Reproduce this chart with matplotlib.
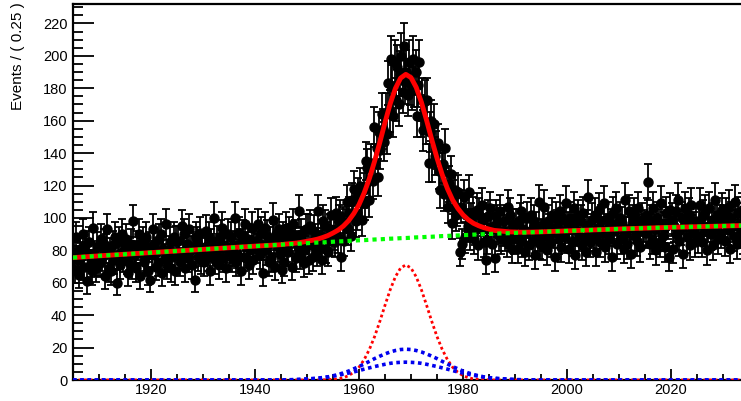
import numpy as np
import matplotlib.pyplot as plt
from matplotlib.ticker import MultipleLocator

# event counts per 0.25 bin, 1905 -> 2035 (20 bins per row = 5 units)
counts = [
    79, 68, 88, 74, 65, 81, 76, 90, 70, 83, 61, 78, 85, 72, 67, 94, 77, 69, 82, 73,
    72, 87, 76, 84, 64, 81, 93, 69, 79, 67, 83, 74, 88, 60, 77, 85, 71, 90, 75, 80,
    87, 74, 66, 79, 84, 71, 98, 77, 69, 83, 90, 64, 81, 85, 73, 76, 88, 67, 82, 62,
    77, 93, 84, 70, 79, 73, 87, 90, 66, 81, 75, 96, 71, 80, 85, 69, 76, 88, 67, 86,
    86, 77, 73, 95, 79, 90, 69, 84, 75, 93, 80, 71, 82, 62, 88, 85, 76, 91, 74, 79,
    73, 82, 92, 76, 88, 67, 84, 79, 100, 74, 86, 80, 71, 89, 94, 75, 83, 69, 81, 90,
    79, 88, 75, 83, 100, 73, 78, 91, 84, 67, 89, 76, 96, 82, 87, 71, 80, 94, 74, 85,
    86, 81, 96, 77, 91, 83, 66, 94, 80, 89, 73, 85, 75, 99, 87, 70, 90, 82, 93, 78,
    68, 88, 73, 94, 82, 79, 91, 87, 70, 96, 89, 75, 83, 104, 77, 90, 85, 72, 80, 93,
    93, 74, 95, 83, 76, 92, 87, 79, 104, 83, 89, 74, 98, 95, 81, 88, 79, 93, 102, 86,
    90, 85, 103, 88, 98, 101, 76, 97, 86, 96, 110, 93, 103, 89, 111, 101, 118, 98, 103, 114,
    120, 111, 99, 117, 109, 135, 131, 111, 124, 134, 123, 156, 134, 143, 125, 153, 142, 164, 155, 147,
    164, 152, 183, 166, 198, 181, 163, 196, 173, 193, 170, 189, 200, 178, 206, 184, 190, 176, 196, 183,
    180, 198, 182, 190, 163, 182, 196, 163, 173, 154, 172, 158, 173, 134, 153, 160, 134, 158, 138, 142,
    146, 129, 117, 129, 133, 115, 143, 118, 107, 121, 127, 97, 113, 117, 102, 105, 116, 79, 107, 84,
    113, 88, 102, 95, 116, 90, 99, 103, 87, 93, 105, 83, 102, 93, 108, 99, 85, 74, 87, 101,
    106, 93, 84, 95, 75, 101, 98, 89, 104, 87, 92, 98, 89, 85, 107, 91, 102, 81, 96, 87,
    96, 90, 81, 99, 104, 85, 93, 79, 91, 100, 83, 92, 102, 86, 98, 77, 94, 89, 110, 84,
    83, 96, 107, 89, 80, 98, 93, 85, 102, 91, 76, 100, 95, 87, 104, 82, 92, 99, 88, 109,
    94, 81, 100, 97, 86, 106, 77, 92, 101, 89, 98, 83, 103, 88, 79, 95, 113, 85, 91, 99,
    89, 102, 79, 94, 105, 85, 98, 91, 109, 82, 93, 100, 87, 96, 76, 103, 92, 106, 84, 97,
    100, 87, 97, 81, 111, 91, 84, 104, 94, 78, 98, 102, 89, 86, 106, 93, 82, 99, 92, 95,
    91, 102, 122, 84, 98, 87, 106, 93, 80, 100, 96, 85, 109, 89, 94, 82, 103, 97, 76, 105,
    99, 81, 95, 104, 90, 111, 86, 93, 100, 78, 106, 97, 88, 102, 83, 108, 92, 94, 85, 98,
    88, 97, 108, 85, 101, 92, 104, 80, 95, 106, 90, 99, 83, 111, 94, 102, 87, 98, 91, 105,
    98, 86, 102, 93, 107, 81, 100, 95, 89, 110, 84, 103, 96, 91, 105, 87, 99, 82, 101, 94,
]

# fit model components sampled along x
curve_x = [1905, 1910, 1915, 1920, 1925, 1930, 1935, 1940, 1945] + list(range(1946, 1993)) + \
          [1995, 2000, 2005, 2010, 2015, 2020, 2025, 2030, 2035]

bkg = [75.5, 76.6, 77.6, 78.6, 79.6, 80.6, 81.6, 82.6, 83.5,
       83.7, 83.9, 84.0, 84.2, 84.4, 84.6, 84.8, 84.9, 85.1, 85.3,
       85.5, 85.6, 85.8, 86.0, 86.2, 86.3, 86.5, 86.7, 86.8, 87.0,
       87.2, 87.3, 87.5, 87.6, 87.8, 88.0, 88.1, 88.3, 88.4, 88.6,
       88.8, 88.9, 89.1, 89.2, 89.4, 89.5, 89.7, 89.8, 90.0, 90.1,
       90.2, 90.4, 90.5, 90.6, 90.8, 90.9, 91.0,
       91.4, 92.0, 92.6, 93.2, 93.7, 94.2, 94.6, 95.0, 95.4]

sig_red = [0, 0, 0, 0, 0, 0, 0, 0, 0,
           0, 0, 0, 0, 0, 0, 0, 0.1, 0.2, 0.4, 0.7, 1.4, 2.7, 4.8, 7.9, 12.6,
           18.9, 26.8, 36.1, 46.1, 55.7, 63.7, 69.1, 71.0, 69.1, 63.7, 55.7, 46.1,
           36.1, 26.8, 18.9, 12.6, 7.9, 4.8, 2.7, 1.4, 0.7, 0.4, 0.2, 0.1,
           0, 0, 0, 0, 0, 0, 0,
           0, 0, 0, 0, 0, 0, 0, 0, 0]

sig_blue1 = [0, 0, 0, 0, 0, 0, 0, 0, 0,
             0.1, 0.1, 0.2, 0.3, 0.5, 0.7, 1.0, 1.4, 1.9, 2.6, 3.4, 4.4, 5.5, 6.9, 8.3, 9.9,
             11.5, 13.2, 14.7, 16.1, 17.3, 18.2, 18.8, 19.0, 18.8, 18.2, 17.3, 16.1,
             14.7, 13.2, 11.5, 9.9, 8.3, 6.9, 5.5, 4.4, 3.4, 2.6, 1.9, 1.4,
             1.0, 0.7, 0.5, 0.3, 0.2, 0.1, 0.1,
             0, 0, 0, 0, 0, 0, 0, 0, 0]

sig_blue2 = [0, 0, 0, 0, 0, 0, 0, 0, 0,
             0.1, 0.2, 0.3, 0.5, 0.7, 0.9, 1.1, 1.5, 1.9, 2.4, 2.9, 3.6, 4.3, 5.0, 5.8, 6.7,
             7.5, 8.3, 9.0, 9.7, 10.3, 10.7, 10.9, 11.0, 10.9, 10.7, 10.3, 9.7,
             9.0, 8.3, 7.5, 6.7, 5.8, 5.0, 4.3, 3.6, 2.9, 2.4, 1.9, 1.5,
             1.1, 0.9, 0.7, 0.5, 0.3, 0.2, 0.1,
             0, 0, 0, 0, 0, 0, 0, 0, 0]

counts = np.array(counts, dtype=float)
bin_x = np.arange(1905, 2035, 0.25) + 0.125
err = np.sqrt(counts)
total = np.array(bkg) + np.array(sig_red) + np.array(sig_blue1) + np.array(sig_blue2)

plt.rcParams['font.family'] = ['Liberation Sans', 'DejaVu Sans']

fig = plt.figure(figsize=(7.41, 4.01), dpi=100)
ax = fig.add_axes([73 / 741, 21 / 401, 676 / 741, 376 / 401])

ax.errorbar(bin_x, counts, yerr=err, fmt='o', color='black', ms=6.5,
            elinewidth=1.3, capsize=3, capthick=1.3, zorder=2)
ax.plot(curve_x, total, color='#ff0000', lw=3.5, zorder=3)
ax.plot(curve_x, bkg, color='#00ff00', lw=3, linestyle=(0, (1, 1)),
        dash_capstyle='butt', zorder=4)
ax.plot(curve_x, sig_red, color='#ff0000', lw=2, linestyle=(0, (1, 1)),
        dash_capstyle='butt', zorder=5)
ax.plot(curve_x, sig_blue1, color='#0000ee', lw=2.6, linestyle=(0, (1, 1)),
        dash_capstyle='butt', zorder=6)
ax.plot(curve_x, sig_blue2, color='#0000ee', lw=2.6, linestyle=(0, (1, 1)),
        dash_capstyle='butt', zorder=6)

ax.set_xlim(1905, 2035)
ax.set_ylim(0, 232)
ax.xaxis.set_major_locator(MultipleLocator(20))
ax.xaxis.set_minor_locator(MultipleLocator(5))
ax.yaxis.set_major_locator(MultipleLocator(20))
ax.yaxis.set_minor_locator(MultipleLocator(5))
ax.tick_params(axis='both', which='both', direction='in', width=1.3, labelsize=10.5)
ax.tick_params(axis='y', which='major', length=15, pad=4)
ax.tick_params(axis='y', which='minor', length=7)
ax.tick_params(axis='x', which='major', length=8, pad=2)
ax.tick_params(axis='x', which='minor', length=4)
ax.tick_params(right=False, top=False)
for s in ax.spines.values():
    s.set_linewidth(1.6)

fig.text(18 / 741, 1 - 2 / 401, 'Events / ( 0.25 )', rotation=90,
         ha='center', va='top', fontsize=11)

fig.savefig('out.png', dpi=100)
